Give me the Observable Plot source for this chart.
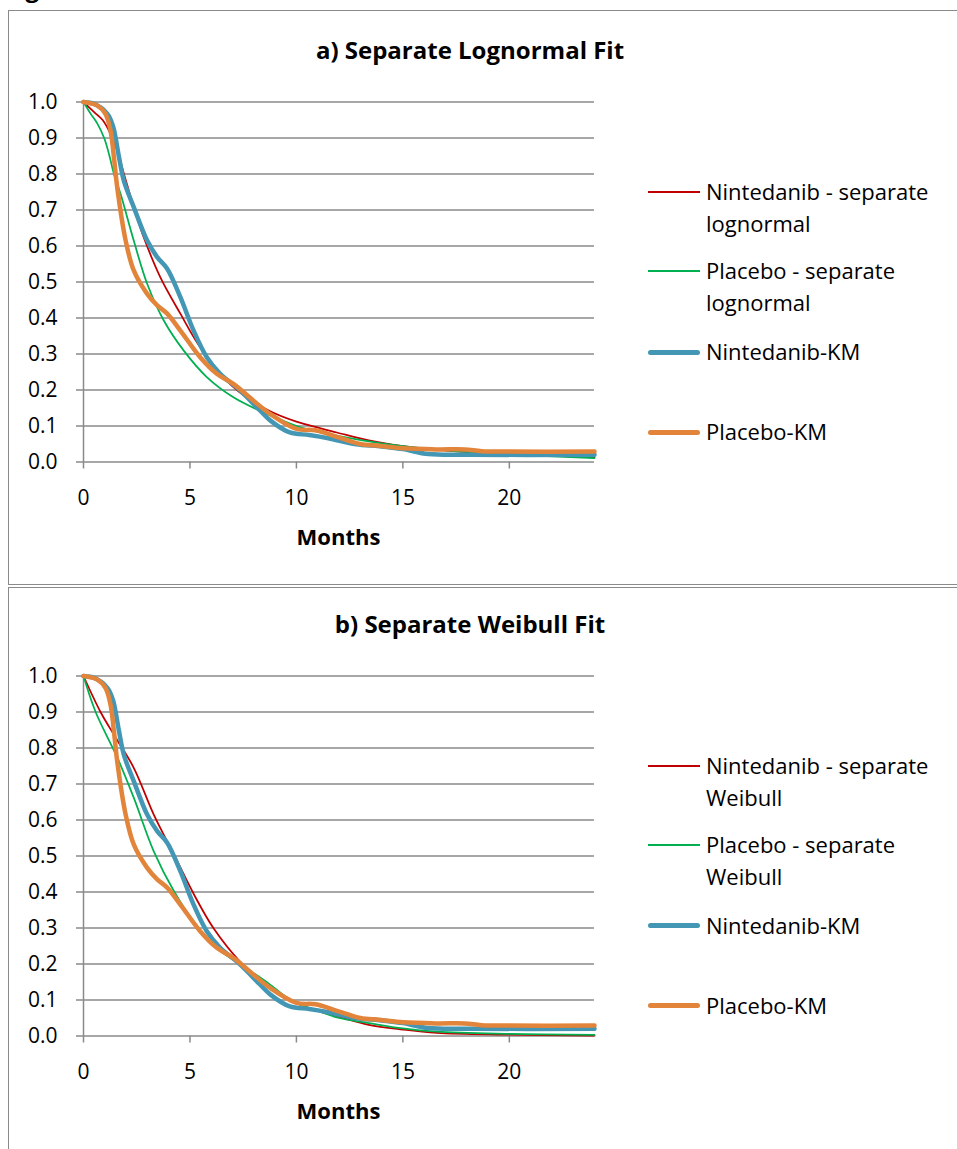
<!DOCTYPE html>
<html><head><meta charset="utf-8">
<script src="https://cdn.jsdelivr.net/npm/d3@7"></script>
<script src="https://cdn.jsdelivr.net/npm/@observablehq/plot@0.6"></script>
<style>
html,body{margin:0;padding:0;background:#fff;width:957px;height:1149px;overflow:hidden;font-family:"Open Sans",sans-serif;color:#000;}
.wrap{position:absolute;left:0;width:957px;height:600px;}
.box{position:absolute;left:8px;width:960px;border:1.5px solid #8a8a8a;box-sizing:border-box;}
.title{position:absolute;left:0;width:940px;text-align:center;font-weight:bold;font-size:24px;line-height:30px;white-space:nowrap;}
.xlabel{position:absolute;width:200px;text-align:center;font-weight:bold;font-size:22px;line-height:32px;}
.legline{position:absolute;left:648px;width:52px;}
.legtext{position:absolute;left:706px;width:250px;font-size:22px;line-height:32px;}
svg.plot{position:absolute;left:0;}
</style>
</head><body>
<svg id="cut" width="200" height="12" style="position:absolute;left:0;top:0;"><text x="5" y="-3" font-family="Open Sans" font-weight="bold" font-size="24">Figure</text></svg>
<script>
// ---------- data ----------
const xTicks = [0, 5, 10, 15, 20];
const yTicks = [0, 0.1, 0.2, 0.3, 0.4, 0.5, 0.6, 0.7, 0.8, 0.9, 1.0];
const xAxisTitle = "Months";

// Kaplan-Meier curves (same in both panels)
const kmNinMonths = [0, 0.5, 0.8, 1.0, 1.2, 1.4, 1.67, 1.9, 2.36, 2.99, 3.46, 3.93, 4.55, 5.17, 5.79, 6.42, 7.35, 8.29, 8.78, 9.69, 10.6, 11.5, 12.8, 13.9, 15.0, 16.2, 18.2, 24];
const kmNinSurv   = [1.0, 0.995, 0.985, 0.975, 0.96, 0.93, 0.846, 0.78, 0.708, 0.615, 0.569, 0.537, 0.458, 0.365, 0.291, 0.245, 0.199, 0.143, 0.115, 0.082, 0.075, 0.066, 0.049, 0.044, 0.036, 0.022, 0.020, 0.020];
const kmPlaMonths = [0, 0.65, 1.03, 1.27, 1.43, 1.59, 1.98, 2.36, 2.99, 3.46, 3.93, 4.55, 5.48, 6.26, 7.04, 7.97, 8.78, 10.0, 10.9, 11.9, 13.0, 13.9, 15.0, 16.6, 17.9, 18.7, 19.8, 24];
const kmPlaSurv   = [1.0, 0.99, 0.967, 0.92, 0.846, 0.76, 0.615, 0.532, 0.467, 0.435, 0.412, 0.365, 0.291, 0.245, 0.217, 0.171, 0.133, 0.092, 0.088, 0.07, 0.05, 0.045, 0.038, 0.035, 0.035, 0.03, 0.029, 0.029];

// a) separate lognormal fits
const lnNinMonths = [0, 0.5, 0.9, 1.2, 1.5, 2.0, 2.4, 2.83, 3.61, 4.55, 5.48, 7.04, 8.7, 10.0, 11.1, 11.9, 13.4, 15.0, 16.6, 18.2, 20, 24];
const lnNinSurv   = [1.0, 0.972, 0.95, 0.92, 0.88, 0.78, 0.70, 0.624, 0.513, 0.412, 0.319, 0.208, 0.143, 0.112, 0.094, 0.082, 0.060, 0.044, 0.034, 0.027, 0.022, 0.013];
const lnPlaMonths = [0, 0.34, 0.65, 0.97, 1.2, 1.43, 1.74, 2.36, 2.99, 3.77, 4.70, 5.79, 7.04, 8.6, 10.15, 12, 14, 16, 18, 20, 24];
const lnPlaSurv   = [1.0, 0.967, 0.94, 0.90, 0.855, 0.80, 0.745, 0.615, 0.495, 0.393, 0.310, 0.236, 0.180, 0.134, 0.097, 0.072, 0.052, 0.038, 0.028, 0.021, 0.011];

// b) separate Weibull fits
const wbNinMonths = [0, 0.8, 1.5, 2.36, 3.3, 4.25, 5.19, 6.1, 7.35, 8.6, 9.84, 11, 11.9, 13.4, 15, 16.6, 19.8, 24];
const wbNinSurv   = [1.0, 0.9, 0.83, 0.745, 0.615, 0.504, 0.393, 0.30, 0.207, 0.142, 0.096, 0.07, 0.055, 0.031, 0.018, 0.009, 0.004, 0.001];
const wbPlaMonths = [0, 0.57, 1.59, 2.36, 3.3, 4.25, 5.17, 6.26, 7.35, 8.6, 9.84, 11, 12, 13.4, 15, 16.6, 19.8, 24];
const wbPlaSurv   = [1.0, 0.9, 0.773, 0.662, 0.513, 0.402, 0.318, 0.244, 0.20, 0.15, 0.096, 0.07, 0.05, 0.036, 0.021, 0.012, 0.006, 0.003];

const titleA = "a) Separate Lognormal Fit";
const titleB = "b) Separate Weibull Fit";
const legendA = ["Nintedanib - separate lognormal", "Placebo - separate lognormal", "Nintedanib-KM", "Placebo-KM"];
const legendB = ["Nintedanib - separate Weibull", "Placebo - separate Weibull", "Nintedanib-KM", "Placebo-KM"];

// ---------- styles ----------
const seriesColors = ["#C00000", "#00B050", "#4397B4", "#E2843A"];
const seriesWidths = [1.75, 1.75, 4.5, 4.5];
const gridColor = "#8a8a8a";
const legendYs = [192, 271, 352, 432];

function rows(months, surv) { return months.map((m, i) => ({month: m, surv: surv[i]})); }

function panel(top, boxTop, boxHeight, title, fitN, fitP, legend) {
  const wrap = document.createElement("div");
  wrap.className = "wrap";
  wrap.style.top = top + "px";
  document.body.appendChild(wrap);

  const box = document.createElement("div");
  box.className = "box";
  box.style.top = boxTop + "px";
  box.style.height = boxHeight + "px";
  wrap.appendChild(box);

  const t = document.createElement("div");
  t.className = "title";
  t.style.top = "35.3px";
  t.textContent = title;
  wrap.appendChild(t);

  const series = [fitN, fitP, rows(kmNinMonths, kmNinSurv), rows(kmPlaMonths, kmPlaSurv)];

  const svg = Plot.plot({
    width: 620,
    height: 460,
    marginLeft: 83,
    marginRight: 26,
    marginTop: 21.5,
    marginBottom: 78.5,
    style: {fontFamily: "'Open Sans', sans-serif", fontSize: "21px", color: "#000", background: "none", overflow: "visible"},
    x: {domain: [0, 24], label: null},
    y: {domain: [0, 1], label: null},
    marks: [
      Plot.ruleY(yTicks, {stroke: gridColor, strokeWidth: 1.5}),
      Plot.ruleX([0], {stroke: gridColor, strokeWidth: 1.5}),
      Plot.axisY({ticks: yTicks, tickSize: 7, tickPadding: 19, tickFormat: d3.format(".1f"), stroke: gridColor, strokeWidth: 1.5, fill: "#000", label: null}),
      Plot.axisX({ticks: xTicks, tickSize: 7, tickPadding: 20.8, tickFormat: d => String(d), stroke: gridColor, strokeWidth: 1.5, fill: "#000", label: null}),
      ...series.map((d, i) => Plot.line(d, {x: "month", y: "surv", stroke: seriesColors[i], strokeWidth: seriesWidths[i], curve: "catmull-rom", strokeLinejoin: "round", strokeLinecap: "round"}))
    ]
  });
  svg.classList.add("plot");
  svg.style.top = "80px";
  wrap.appendChild(svg);

  const xl = document.createElement("div");
  xl.className = "xlabel";
  xl.style.left = (338.5 - 100) + "px";
  xl.style.top = (536.7 - 16.6) + "px";
  xl.textContent = xAxisTitle;
  wrap.appendChild(xl);

  legend.forEach((lab, i) => {
    const ln = document.createElement("div");
    ln.className = "legline";
    const h = seriesWidths[i] > 3 ? 5 : 2;
    ln.style.height = h + "px";
    ln.style.top = (legendYs[i] - h / 2) + "px";
    ln.style.background = seriesColors[i];
    if (h > 3) ln.style.borderRadius = "2.5px";
    wrap.appendChild(ln);
    const tx = document.createElement("div");
    tx.className = "legtext";
    tx.style.top = (legendYs[i] - 16.6) + "px";
    tx.textContent = lab;
    wrap.appendChild(tx);
  });
}

panel(0, 10, 575, titleA, rows(lnNinMonths, lnNinSurv), rows(lnPlaMonths, lnPlaSurv), legendA);
panel(573.5, 13.5, 620, titleB, rows(wbNinMonths, wbNinSurv), rows(wbPlaMonths, wbPlaSurv), legendB);
</script>
</body></html>
